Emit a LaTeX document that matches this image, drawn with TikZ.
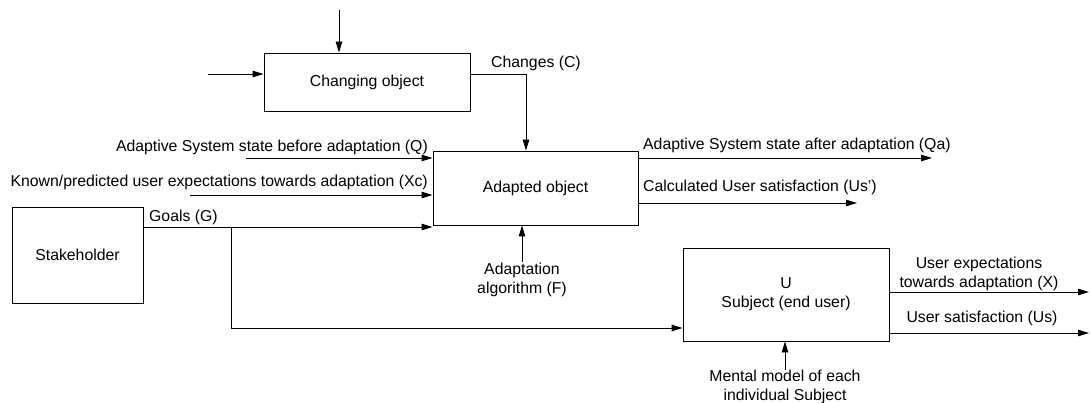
\documentclass[tikz,border=0pt]{standalone}
\usepackage{fontspec}
\setmainfont{Liberation Sans}
\usetikzlibrary{arrows.meta}
\begin{document}
\begin{tikzpicture}[x=1pt,y=-1pt,
  every node/.style={font=\fontsize{15.8}{19}\selectfont, inner sep=0pt},
  block/.style={draw, line width=0.9pt, align=center},
  flow/.style={line width=0.9pt, -{Triangle[length=11pt,width=6.5pt]}},
  lbl/.style={align=center}]
\useasboundingbox (0,0) rectangle (1091,403);

% blocks
\node[block, minimum width=206, minimum height=58] (chg) at (367,82) {Changing object};
\node[block, minimum width=205, minimum height=74] (adp) at (535.5,188) {Adapted object};
\node[block, minimum width=131, minimum height=96] (stk) at (77.5,255) {Stakeholder};
\node[block, minimum width=206, minimum height=93] (sub) at (786,294.5) {U\\Subject (end user)};

% free ends of the connectors
\coordinate (ctop) at (339,10);
\coordinate (cin) at (208,74);
\coordinate (cdrop) at (526,74);
\coordinate (qin) at (246,158);
\coordinate (xcin) at (190,195);
\coordinate (gsplit) at (231,227);
\coordinate (gturn) at (231,328);
\coordinate (qaout) at (932,158);
\coordinate (usc) at (857,203);
\coordinate (fin) at (522,262);
\coordinate (xout) at (1089,292);
\coordinate (usout) at (1089,333);
\coordinate (min) at (785,370);

% connectors
\draw[flow] (ctop) -- (ctop |- chg.north);
\draw[flow] (cin) -- (cin -| chg.west);
\draw[flow] (chg.east |- cdrop) -- (cdrop) -- (cdrop |- adp.north);
\draw[flow] (qin) -- (qin -| adp.west);
\draw[flow] (xcin) -- (xcin -| adp.west);
\draw[flow] (gsplit -| stk.east) -- (gsplit -| adp.west);
\draw[flow] (gsplit) -- (gturn) -- (gturn -| sub.west);
\draw[flow] (qaout -| adp.east) -- (qaout);
\draw[flow] (usc -| adp.east) -- (usc);
\draw[flow] (fin) -- (fin |- adp.south);
\draw[flow] (xout -| sub.east) -- (xout);
\draw[flow] (usout -| sub.east) -- (usout);
\draw[flow] (min) -- (min |- sub.south);

% labels
\node[anchor=west] (lc) at (491,63) {Changes (C)};
\node[anchor=east] (lq) at (428,147) {Adaptive System state before adaptation (Q)};
\node[anchor=east] (lxc) at (428,182) {Known/predicted user expectations towards adaptation (Xc)};
\node[anchor=west] (lg) at (149,217) {Goals (G)};
\node[anchor=west] (lqa) at (643,145) {Adaptive System state after adaptation (Qa)};
\node[anchor=west] (lus1) at (643,187) {Calculated User satisfaction (Us’)};
\node[lbl, anchor=north] (lf) at (522,263) {Adaptation\\algorithm (F)};
\node[lbl] (lx) at (979,273.5) {User expectations\\towards adaptation (X)};
\node[lbl] (lus) at (982,318) {User satisfaction (Us)};
\node[lbl, anchor=north] (lm) at (785,370) {Mental model of each\\individual Subject};
\end{tikzpicture}
\end{document}
